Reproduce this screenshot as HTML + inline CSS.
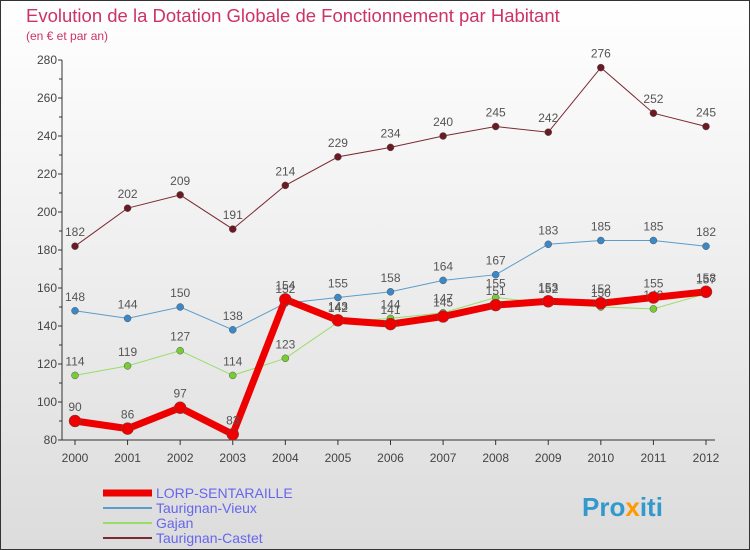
<!DOCTYPE html>
<html><head><meta charset="utf-8"><style>
body{margin:0;width:750px;height:550px;overflow:hidden;font-family:"Liberation Sans",sans-serif}
svg{display:block}
</style></head><body>
<svg id="c" width="750" height="550">
<defs><linearGradient id="bg" x1="0" y1="0" x2="0" y2="1"><stop offset="0" stop-color="#ffffff"/><stop offset="1" stop-color="#dcdcdc"/></linearGradient></defs>
<rect x="0.5" y="0.5" width="749" height="549" fill="url(#bg)" stroke="#333"/>
<text x="26" y="22" font-size="18.5" fill="#cc3366">Evolution de la Dotation Globale de Fonctionnement par Habitant</text>
<text x="26" y="40" font-size="12" fill="#cc3366">(en € et par an)</text>
<g id="axes"></g><g id="series"></g><g id="legend"></g>
<text x="582" y="516" font-size="26" font-weight="bold" fill="#3399cc">Pro<tspan fill="#ff9900">x</tspan>iti</text>
</svg>
<script>
const years=["2000","2001","2002","2003","2004","2005","2006","2007","2008","2009","2010","2011","2012"];
const yTicks=[80,100,120,140,160,180,200,220,240,260,280];
const lorp=[90,86,97,83,154,143,141,145,151,153,152,155,158];
const gajan=[114,119,127,114,123,142,144,147,155,152,150,149,157];
const vieux=[148,144,150,138,152,155,158,164,167,183,185,185,182];
const castet=[182,202,209,191,214,229,234,240,245,242,276,252,245];
const NS="http://www.w3.org/2000/svg";
const X=i=>75+i*(706-75)/(years.length-1);
const Y=v=>440-(v-80)*(380/200);
function mk(t,a,p){const e=document.createElementNS(NS,t);for(const k in a)e.setAttribute(k,a[k]);p.appendChild(e);return e;}
const ax=document.getElementById('axes');
let l=mk('line',{x1:62,y1:Y(280),x2:62,y2:440,stroke:'#333'},ax);


l=mk('line',{x1:62,y1:440,x2:715,y2:440,stroke:'#333'},ax);


yTicks.forEach(v=>{const t=mk('text',{x:57,y:Y(v)+4,'font-size':12,fill:'#444','text-anchor':'end'},ax);t.textContent=v;


mk('line',{x1:58,y1:Y(v),x2:62,y2:Y(v),stroke:'#333'},ax);
if(v<280){mk('line',{x1:59,y1:Y(v+10),x2:62,y2:Y(v+10),stroke:'#333'},ax);}});
years.forEach((y,i)=>{const t=mk('text',{x:X(i),y:462,'font-size':12,fill:'#444','text-anchor':'middle'},ax);t.textContent=y;


mk('line',{x1:X(i),y1:440,x2:X(i),y2:445,stroke:'#333'},ax);});
const sg=document.getElementById('series');
function draw(d,name,col,w,r,dot){const g=mk('g',{},sg);


const p=mk('polyline',{points:d.map((v,i)=>X(i)+','+Y(v)).join(' '),fill:'none',stroke:col,'stroke-width':w},g);


d.forEach((v,i)=>{const c=mk('circle',{cx:X(i),cy:Y(v),r:r,fill:dot,stroke:'#555','stroke-width':0.5},g);


const t=mk('text',{x:X(i),y:Y(v)-10,'font-size':12,fill:'#555','text-anchor':'middle'},g);t.textContent=v;

});}
draw(castet,'taurignan-castet','#7a2a32',1,3.5,'#6b1a22');
draw(vieux,'taurignan-vieux','#5c9ccc',1,3.5,'#3a88c8');
draw(gajan,'gajan','#99dd66',1,3.5,'#77cc33');
draw(lorp,'lorp-sentaraille','#ee0000',7,6,'#ee0000');
const lg=document.getElementById('legend');
const items=[["LORP-SENTARAILLE","#ee0000",7],["Taurignan-Vieux","#5c9ccc",2],["Gajan","#99dd66",2],["Taurignan-Castet","#7a2a32",2]];
items.forEach((it,i)=>{const y=493+i*15;const g=mk('g',{},lg);


mk('line',{x1:103,y1:y,x2:152,y2:y,stroke:it[1],'stroke-width':it[2]},g);
const t=mk('text',{x:156,y:y+5,'font-size':14,fill:'#6666ee'},g);t.textContent=it[0];});
</script>
</body></html>
